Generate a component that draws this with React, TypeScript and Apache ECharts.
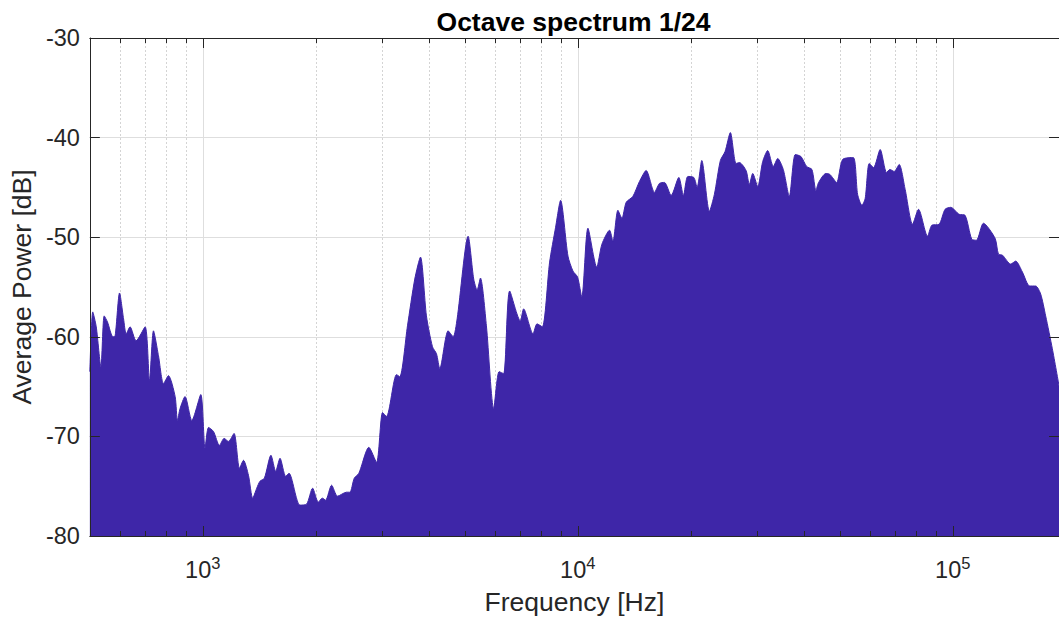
import React, { useEffect, useRef } from 'react';
import * as echarts from 'echarts';

// Octave spectrum (1/24 octave) – frequencies [Hz] and average power [dB]
const freqHz = [
  500, 509, 520, 535, 546, 557, 576, 584, 600, 615,
  625, 640, 664, 702, 721, 739, 762, 786, 810, 844,
  856, 870, 897, 935, 988, 1014, 1036, 1068, 1108, 1140,
  1171, 1212, 1253, 1284, 1324, 1359, 1393, 1421, 1460, 1520,
  1565, 1607, 1664, 1698, 1816, 1892, 1963, 2033, 2083, 2126,
  2206, 2288, 2418, 2468, 2535, 2608, 2773, 2907, 3016, 3090,
  3286, 3353, 3515, 3676, 3807, 3949, 4098, 4200, 4286, 4512,
  4653, 4768, 5101, 5279, 5390, 5501, 5707, 5968, 6169, 6345,
  6583, 7029, 7172, 7598, 7787, 8044, 8413, 8728, 9000, 9417,
  9710, 9988, 10250, 10645, 11236, 11600, 12154, 12410, 12796, 13114,
  13464, 14028, 14608, 15221, 16016, 16514, 17028, 17742, 18600, 19132,
  19656, 20392, 20809, 21417, 22439, 23138, 24005, 24707, 25523, 26430,
  26970, 28104, 28678, 29282, 30193, 31133, 32103, 33224, 34134, 35326,
  36650, 38021, 39372, 40771, 42117, 43163, 43884, 45893, 47032, 49004,
  50840, 54269, 55753, 57243, 58413, 59862, 61500, 64038, 66603, 67964,
  69780, 71954, 74656, 78120, 81047, 85650, 87938, 91966, 95388, 98780,
  103940, 107840, 112360, 115640, 120710, 129650, 132380, 135660, 142740, 147190,
  153370, 160380, 166360, 171540, 176890, 184310, 192000,
];

const powerDb = [
  -63.5, -57.5, -59, -63, -57.9, -58.5, -60, -59.9, -55.6, -58.2,
  -59.7, -59, -60.4, -59, -64.4, -59.4, -61.9, -64.7, -63.9, -66,
  -68.4, -67.2, -66, -68.4, -65.8, -71.2, -69.1, -69.5, -70.9, -70.2,
  -70.5, -69.7, -73.2, -72.4, -73.9, -76.2, -75.2, -74.5, -74.2, -71.9,
  -73.5, -72.2, -74, -73.7, -76.9, -76.8, -75.2, -76.6, -76.2, -76.4,
  -74.9, -76, -75.6, -75.6, -74.2, -73.7, -71.1, -72.6, -67.6, -68,
  -63.8, -64, -58.9, -54.2, -52, -57.9, -61, -61.7, -63.2, -59.4,
  -60, -58.2, -49.9, -54.2, -55.3, -54.1, -58.9, -67.2, -63.5, -63.7,
  -55.4, -58.4, -57.2, -59.7, -58.7, -59, -52.5, -49, -46.3, -51.9,
  -53.4, -54, -56, -49.1, -53, -50.7, -49.3, -50.4, -47.3, -48.1,
  -46.5, -45.9, -44.4, -43.3, -45.5, -44.6, -44.5, -45.8, -44, -45.8,
  -43.9, -44, -45, -42.3, -47.4, -45.7, -42.3, -41.4, -39.5, -42.6,
  -42.5, -43.3, -44.7, -43.6, -44.9, -42.4, -41.3, -42.9, -42.1, -43.2,
  -45.9, -41.7, -41.9, -42.9, -43.2, -45.3, -44.5, -43.6, -43.7, -44.5,
  -42.2, -42, -45.7, -46.8, -46.1, -42.6, -43, -41.2, -43.5, -43.2,
  -43.4, -42.7, -45.2, -48.7, -47.2, -49.9, -48.8, -48.7, -47.2, -47,
  -47.7, -47.8, -50.2, -50.3, -48.6, -50.1, -51.7, -51.8, -52.7, -52.4,
  -53.5, -54.9, -54.9, -55.7, -57.9, -61.2, -64.9,
];

// minor log ticks / dotted grid lines
const minorFreqs = [
  500, 600, 700, 800, 900,
  2000, 3000, 4000, 5000, 6000, 7000, 8000, 9000,
  20000, 30000, 40000, 50000, 60000, 70000, 80000, 90000,
];

const X_MIN = 500;
const X_MAX = 192000;
const Y_MIN = -80;
const Y_MAX = -30;
const Y_STEP = 10;

const FONT = "'Liberation Sans', Arial, Helvetica, sans-serif";
const AX = '#262626';
const FILL = '#3E26A8';

export default function App() {
  const ref = useRef<HTMLDivElement>(null);

  useEffect(() => {
    document.body.style.margin = '0';
    const chart = echarts.init(ref.current as HTMLDivElement, null, { renderer: 'svg' });

    const xBase = { type: 'log', logBase: 10, min: X_MIN, max: X_MAX };
    const yBase = { type: 'value', min: Y_MIN, max: Y_MAX, interval: Y_STEP };
    const tickStyle = { show: true, inside: true, length: 10, lineStyle: { color: AX, width: 1 } };
    const lineStyle = { show: true, onZero: false, lineStyle: { color: AX, width: 1 } };

    const option: any = {
      animation: false,
      backgroundColor: '#ffffff',
      title: {
        text: 'Octave spectrum 1/24',
        left: 573.5,
        top: 8,
        padding: 0,
        textAlign: 'center',
        textStyle: { fontFamily: FONT, fontSize: 26.5, fontWeight: 'bold', color: '#000000' },
      },
      grid: { left: 88, right: 0, top: 38, bottom: 82, containLabel: false },
      xAxis: [
        {
          ...xBase,
          position: 'bottom',
          z: 0,
          axisLine: { show: false },
          axisTick: { show: false },
          axisLabel: { show: false },
          splitLine: { show: true, lineStyle: { color: '#dedede', width: 1 } },
        },
        {
          ...xBase,
          position: 'bottom',
          z: 5,
          axisLine: lineStyle,
          axisTick: tickStyle,
          splitLine: { show: false },
          name: 'Frequency [Hz]',
          nameLocation: 'middle',
          nameGap: 52,
          nameTextStyle: { fontFamily: FONT, fontSize: 26.5, color: AX },
          axisLabel: {
            show: true,
            margin: 18,
            showMinLabel: false,
            showMaxLabel: false,
            formatter: (v: number) => {
              const e = Math.log10(v);
              if (Math.abs(e - Math.round(e)) > 1e-6) return '';
              return '{b|10}{s|' + Math.round(e) + '}';
            },
            rich: {
              b: { fontFamily: FONT, fontSize: 23.5, color: AX, lineHeight: 28, verticalAlign: 'bottom' },
              s: { fontFamily: FONT, fontSize: 16.5, color: AX, lineHeight: 14, verticalAlign: 'top' },
            },
          },
        },
        {
          ...xBase,
          position: 'top',
          z: 5,
          axisLine: lineStyle,
          axisTick: tickStyle,
          axisLabel: { show: false },
          splitLine: { show: false },
        },
      ],
      yAxis: [
        {
          ...yBase,
          position: 'left',
          z: 0,
          axisLine: { show: false },
          axisTick: { show: false },
          axisLabel: { show: false },
          splitLine: { show: true, lineStyle: { color: '#dedede', width: 1 } },
        },
        {
          ...yBase,
          position: 'left',
          z: 5,
          axisLine: lineStyle,
          axisTick: tickStyle,
          splitLine: { show: false },
          axisLabel: { show: true, margin: 10, fontFamily: FONT, fontSize: 23.5, color: AX },
          name: 'Average Power [dB]',
          nameLocation: 'middle',
          nameGap: 49,
          nameTextStyle: { fontFamily: FONT, fontSize: 26.5, color: AX },
        },
        {
          ...yBase,
          position: 'right',
          z: 5,
          axisLine: lineStyle,
          axisTick: tickStyle,
          axisLabel: { show: false },
          splitLine: { show: false },
        },
      ],
      series: [
        {
          type: 'custom',
          name: 'minor grid',
          xAxisIndex: 0,
          yAxisIndex: 0,
          z: 1,
          silent: true,
          data: minorFreqs.map((f) => [f, Y_MIN]),
          renderItem: (_p: any, api: any) => {
            const f = api.value(0);
            const b = api.coord([f, Y_MIN]);
            const t = api.coord([f, Y_MAX]);
            const x = Math.round(b[0]) + 0.5;
            return {
              type: 'line',
              shape: { x1: x, y1: b[1], x2: x, y2: t[1] },
              style: { stroke: '#d4d4d4', lineWidth: 1, lineDash: [2, 2] },
            };
          },
        },
        {
          type: 'line',
          name: 'Average Power',
          xAxisIndex: 0,
          yAxisIndex: 0,
          z: 2,
          data: freqHz.map((f, i) => [f, powerDb[i]]),
          showSymbol: false,
          symbol: 'none',
          smooth: 0.25,
          lineStyle: { color: FILL, width: 1 },
          areaStyle: { color: FILL, opacity: 1, origin: 'start' },
        },
        {
          type: 'custom',
          name: 'minor ticks',
          xAxisIndex: 0,
          yAxisIndex: 0,
          z: 6,
          silent: true,
          data: minorFreqs.map((f) => [f, Y_MIN]),
          renderItem: (_p: any, api: any) => {
            const f = api.value(0);
            const b = api.coord([f, Y_MIN]);
            const t = api.coord([f, Y_MAX]);
            const x = Math.round(b[0]) + 0.5;
            return {
              type: 'group',
              children: [
                {
                  type: 'line',
                  shape: { x1: x, y1: b[1], x2: x, y2: b[1] - 5 },
                  style: { stroke: AX, lineWidth: 1 },
                },
                {
                  type: 'line',
                  shape: { x1: x, y1: t[1], x2: x, y2: t[1] + 5 },
                  style: { stroke: AX, lineWidth: 1 },
                },
              ],
            };
          },
        },
      ],
    };

    chart.setOption(option);
    return () => chart.dispose();
  }, []);

  return <div ref={ref} style={{ width: 1059, height: 620 }} />;
}
